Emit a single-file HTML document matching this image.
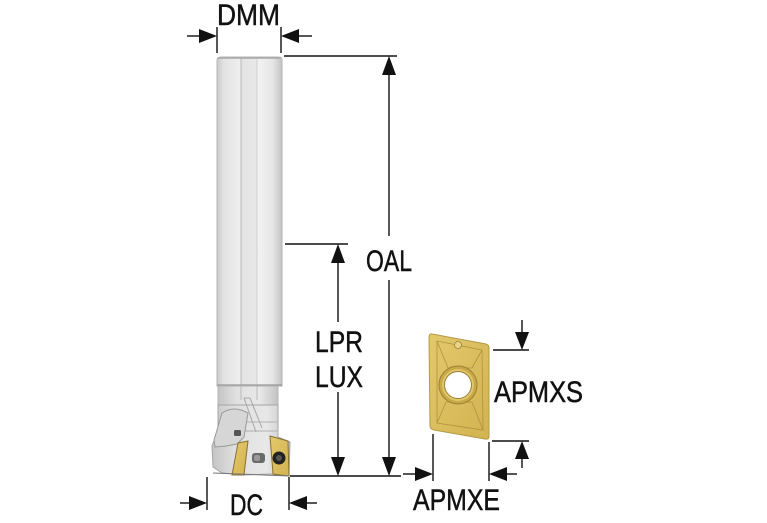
<!DOCTYPE html>
<html><head><meta charset="utf-8"><style>
html,body{margin:0;padding:0;background:#fff;}
svg{display:block;}
text{font-family:"Liberation Sans",sans-serif;font-size:30px;fill:#111;stroke:#111;stroke-width:0.5px;}
</style></head><body>
<svg width="767" height="523" viewBox="0 0 767 523" xmlns="http://www.w3.org/2000/svg">
<defs>
<linearGradient id="sh" x1="0" x2="1" y1="0" y2="0">
<stop offset="0" stop-color="#c9c9c9"/>
<stop offset="0.1" stop-color="#e2e2e2"/>
<stop offset="0.35" stop-color="#eeeeee"/>
<stop offset="0.37" stop-color="#d6d6d6"/>
<stop offset="0.4" stop-color="#e4e4e4"/>
<stop offset="0.6" stop-color="#e8e8e8"/>
<stop offset="0.62" stop-color="#f3f3f3"/>
<stop offset="0.85" stop-color="#e6e6e6"/>
<stop offset="1" stop-color="#c4c4c4"/>
</linearGradient>
<linearGradient id="hd" x1="0" x2="1" y1="0" y2="0">
<stop offset="0" stop-color="#c4c4c4"/>
<stop offset="0.3" stop-color="#e0e0e0"/>
<stop offset="0.7" stop-color="#e8e8e8"/>
<stop offset="1" stop-color="#c2c2c2"/>
</linearGradient>
<linearGradient id="gd" x1="0" x2="1" y1="0" y2="1">
<stop offset="0" stop-color="#e3c86c"/>
<stop offset="1" stop-color="#d2b350"/>
</linearGradient>
</defs>

<!-- shank -->
<path d="M217,60 Q217,57 221,57 L278,57 Q282,57 282,60 L282,386 L217,386 Z" fill="url(#sh)" stroke="#b5b5b5" stroke-width="1"/>
<line x1="241" y1="58" x2="241" y2="386" stroke="#c4c4c4" stroke-width="1"/>
<line x1="257" y1="58" x2="257" y2="386" stroke="#cfcfcf" stroke-width="1"/>
<line x1="218" y1="58" x2="281" y2="58" stroke="#a9a9a9" stroke-width="1.5"/>
<line x1="217" y1="385" x2="282" y2="385" stroke="#999" stroke-width="1.2"/>

<!-- neck / head -->
<rect x="218" y="386" width="60" height="30" fill="url(#hd)" stroke="#b5b5b5" stroke-width="1"/>
<path d="M218,405 L278,405 L278,437 L290,442 L289,476 L270,474 L245,475 L222,473 L213,467 L212,446 L218,430 Z" fill="url(#hd)" stroke="#a5a5a5" stroke-width="1"/>
<line x1="241" y1="386" x2="241" y2="400" stroke="#bbb" stroke-width="1"/>
<line x1="257" y1="386" x2="257" y2="400" stroke="#bbb" stroke-width="1"/>
<path d="M244,398 L256,432 M250,398 L262,428 M244,398 L250,398" stroke="#a8a8a8" stroke-width="1" fill="none"/>
<line x1="247" y1="422" x2="277" y2="422" stroke="#b0b0b0" stroke-width="1"/>
<line x1="245" y1="431" x2="277" y2="431" stroke="#b0b0b0" stroke-width="1"/>
<!-- chip pocket -->
<path d="M222,413 Q234,405 248,413 L244,437 L237,444 L226,446 L215,447 L214,440 Z" fill="#d6d6d6" stroke="#9a9a9a" stroke-width="1"/>
<rect x="234" y="430" width="7" height="6" rx="1.5" fill="#555"/>
<!-- left insert -->
<polygon points="238,443 248,441 244,475 232,475" fill="url(#gd)" stroke="#8a7030" stroke-width="1"/>
<!-- right insert -->
<polygon points="270,436 288,441 289,476 273,474" fill="url(#gd)" stroke="#8a7030" stroke-width="1"/>
<circle cx="279" cy="458" r="6.5" fill="#222"/>
<circle cx="279" cy="458" r="3" fill="#555"/>
<!-- slot -->
<rect x="252" y="453" width="13" height="10" rx="3" fill="#6a6a6a"/>
<rect x="254" y="455" width="6" height="6" rx="2" fill="#999"/>
<line x1="213" y1="473" x2="289" y2="476" stroke="#777" stroke-width="1"/>

<!-- insert (right) -->
<path d="M432,334 L486,344 Q489,345 489,348 L489,436 Q489,440 485,439 L434,430 Q430,429 430,426 L429,338 Q429,333 432,334 Z" fill="url(#gd)" stroke="#b59a45" stroke-width="1"/>
<path d="M437,341 L482,350 L483,430 L437,423 Z" fill="none" stroke="#b0923e" stroke-width="0.8"/>
<path d="M437,341 L448,368 M482,350 L472,368 M483,430 L472,402 M437,423 L446,402 M448,368 L472,368 M446,402 L472,402" fill="none" stroke="#b0923e" stroke-width="0.8"/>
<circle cx="458" cy="385" r="19" fill="#c8a945" stroke="#9c8035" stroke-width="1"/>
<circle cx="458" cy="385" r="16" fill="#e0c56a"/>
<circle cx="458" cy="385" r="13.5" fill="#fff" stroke="#9c8035" stroke-width="1"/>
<circle cx="458" cy="345" r="3.5" fill="#e8d48a" stroke="#9c8035" stroke-width="0.8"/>

<!-- dimension lines -->
<g stroke="#111" stroke-width="1.4" fill="none">
<line x1="217" y1="27" x2="217" y2="53"/>
<line x1="281" y1="27" x2="281" y2="53"/>
<line x1="187" y1="36" x2="200" y2="36"/>
<line x1="298" y1="36" x2="312" y2="36"/>
<line x1="284" y1="56" x2="397" y2="56"/>
<line x1="389" y1="70" x2="389" y2="236"/>
<line x1="389" y1="280" x2="389" y2="462"/>
<line x1="290" y1="476" x2="401" y2="476"/>
<line x1="285" y1="244" x2="348" y2="244"/>
<line x1="338" y1="258" x2="338" y2="322"/>
<line x1="338" y1="392" x2="338" y2="462"/>
<line x1="207" y1="477" x2="207" y2="510"/>
<line x1="289" y1="477" x2="289" y2="510"/>
<line x1="180" y1="503" x2="192" y2="503"/>
<line x1="304" y1="503" x2="317" y2="503"/>
<line x1="433" y1="434" x2="433" y2="481"/>
<line x1="489" y1="442" x2="489" y2="481"/>
<line x1="403" y1="474" x2="418" y2="474"/>
<line x1="504" y1="474" x2="517" y2="474"/>
<line x1="493" y1="350" x2="529" y2="350"/>
<line x1="522" y1="320" x2="522" y2="336"/>
<line x1="492" y1="441" x2="529" y2="441"/>
<line x1="522" y1="455" x2="522" y2="468"/>
</g>
<g fill="#111">
<polygon points="217,36 199,29 199,43"/>
<polygon points="281,36 299,29 299,43"/>
<polygon points="389,56 382,75 396,75"/>
<polygon points="389,476 382,457 396,457"/>
<polygon points="338,244 331,263 345,263"/>
<polygon points="338,476 331,457 345,457"/>
<polygon points="207,503 189,496 189,510"/>
<polygon points="289,503 307,496 307,510"/>
<polygon points="433,474 415,467 415,481"/>
<polygon points="489,474 507,467 507,481"/>
<polygon points="522,350 515,332 529,332"/>
<polygon points="522,441 515,459 529,459"/>
</g>

<!-- labels -->
<text x="217" y="25" textLength="63" lengthAdjust="spacingAndGlyphs">DMM</text>
<text x="366" y="271" textLength="46" lengthAdjust="spacingAndGlyphs">OAL</text>
<text x="315" y="352" textLength="48" lengthAdjust="spacingAndGlyphs">LPR</text>
<text x="315" y="387" textLength="48" lengthAdjust="spacingAndGlyphs">LUX</text>
<text x="230" y="515" textLength="33" lengthAdjust="spacingAndGlyphs">DC</text>
<text x="494" y="402" textLength="89" lengthAdjust="spacingAndGlyphs">APMXS</text>
<text x="413" y="510" textLength="87" lengthAdjust="spacingAndGlyphs">APMXE</text>
</svg>
</body></html>
